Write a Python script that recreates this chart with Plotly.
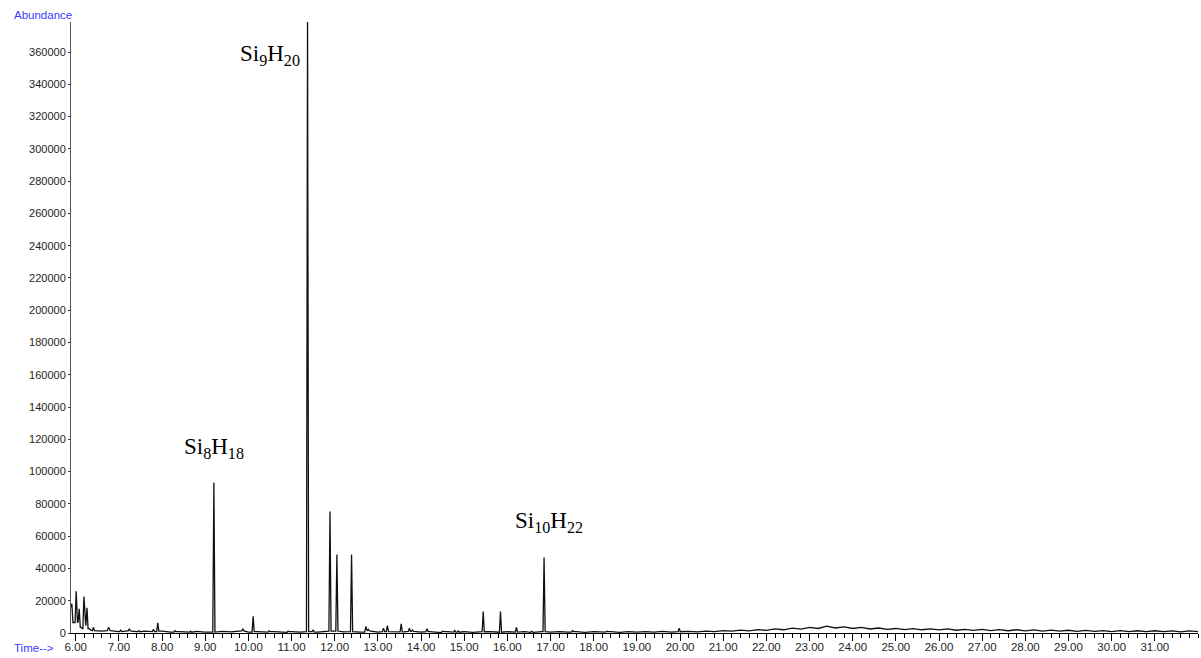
import numpy as np
import plotly.graph_objects as go

# Resolved peaks: retention time (min) and apex abundance
peak_rt = [5.91, 6.01, 6.08, 6.19, 6.26, 6.41, 6.76, 7.04, 7.24, 7.46,
           7.80, 7.90, 8.30, 8.66, 9.20, 9.87, 10.11, 10.48, 10.92, 11.37,
           11.50, 11.89, 12.05, 12.39, 12.72, 12.78, 13.13, 13.22, 13.54, 13.73,
           13.80, 14.14, 14.50, 14.78, 14.86, 15.44, 15.84, 16.21, 16.56, 16.85,
           17.51, 18.30, 19.98]
peak_abundance = [18100, 25900, 15000, 22600, 15600, 3600, 3600, 1800, 2600, 1500,
                  2300, 6300, 1400, 1100, 93200, 2600, 10400, 1300, 1200, 380000,
                  2000, 75300, 48700, 48700, 4000, 2200, 3000, 4500, 5700, 3000,
                  1800, 2600, 1200, 1600, 1300, 13300, 13300, 3400, 1100, 46800,
                  1500, 1100, 3000]

# Solvent tail at the start of the run
front_rt = [5.89, 5.96, 6.04, 6.12, 6.15, 6.23, 6.30, 6.35]
front_abundance = [16000, 6500, 6700, 3500, 2800, 5000, 2800, 1800]

# Baseline sampled every 0.2 min from 6.4 to 32.0 min
baseline_rt = np.round(np.arange(6.4, 32.01, 0.2), 1)
baseline_abundance = [
    1500, 1100, 1400, 900, 1300, 800, 1200, 900, 1100, 600,
    900, 500, 1000, 500, 600, 1000, 700, 1300, 600, 900,
    500, 900, 400, 800, 500, 800, 600, 1100, 1200, 700,
    800, 600, 1300, 600, 800, 1000, 700, 1000, 500, 900,
    400, 800, 500, 900, 400, 800, 900, 500, 800, 600,
    800, 400, 800, 500, 900, 500, 800, 400, 900, 500,
    800, 400, 900, 500, 900, 500, 1000, 600, 800, 1000,
    700, 1200, 900, 1500, 1100, 1800, 1300, 2100, 1600, 2500,
    2000, 3000, 2400, 3500, 2800, 4200, 3100, 3800, 2800, 3500,
    2500, 3100, 2200, 2800, 2100, 2700, 2000, 2600, 1900, 2500,
    1700, 2300, 1600, 2200, 1500, 2100, 1400, 2000, 1300, 1900,
    1200, 1800, 1100, 1700, 1000, 1600, 1000, 1500, 900, 1500,
    900, 1400, 800, 1400, 800, 1300, 700, 1300, 900,
]

x_tick_values = list(range(6, 32))
x_tick_labels = [f"{v:.2f}" for v in x_tick_values]

# Peak labels: text, retention time and height of the label centre
label_text = ["Si<sub>8</sub>H<sub>18</sub>", "Si<sub>9</sub>H<sub>20</sub>",
              "Si<sub>10</sub>H<sub>22</sub>"]
label_rt = [9.20, 10.50, 16.96]
label_abundance = [114500, 358000, 69000]

# Assemble the trace: baseline samples plus a narrow triangle per peak
HALF_WIDTH = 0.025
base_rt = list(front_rt) + [float(t) for t in baseline_rt]
base_ab = list(front_abundance) + list(baseline_abundance)


def nearest_base(t):
    i = int(np.argmin([abs(t - b) for b in base_rt]))
    return base_ab[i]


points = [(t, a) for t, a in zip(base_rt, base_ab)
          if min(abs(t - p) for p in peak_rt) >= HALF_WIDTH]
for p, h in zip(peak_rt, peak_abundance):
    points.append((p - HALF_WIDTH, nearest_base(p - HALF_WIDTH)))
    points.append((p, h))
    points.append((p + HALF_WIDTH, nearest_base(p + HALF_WIDTH)))
points.sort()
trace_rt = [p[0] for p in points]
trace_ab = [p[1] for p in points]

X_RANGE = [5.89, 32.0]
Y_RANGE = [0, 378600]

fig = go.Figure()
fig.add_trace(go.Scatter(
    x=trace_rt, y=trace_ab, mode="lines",
    line=dict(color="#111111", width=1.3),
    hoverinfo="skip", showlegend=False,
))
# Empty trace that carries the tick-only time axis
fig.add_trace(go.Scatter(x=[], y=[], xaxis="x2", yaxis="y",
                         showlegend=False, hoverinfo="skip"))

for txt, x, y in zip(label_text, label_rt, label_abundance):
    fig.add_annotation(
        x=x, y=y, xref="x", yref="y", text=txt, showarrow=False,
        font=dict(family="Liberation Serif, Times New Roman, serif",
                  size=23, color="#000000"),
        xanchor="center", yanchor="middle",
    )

PLOT_W = 1127
PLOT_H = 611
fig.add_annotation(
    x=(11.5 - 71) / PLOT_W, y=(633 - 15) / PLOT_H, xref="paper", yref="paper",
    text="Abundance", showarrow=False, xanchor="left", yanchor="middle",
    font=dict(family="Arial, Liberation Sans, sans-serif", size=11.5, color="#3a3aff"),
)
fig.add_annotation(
    x=(11.5 - 71) / PLOT_W, y=(633 - 647.5) / PLOT_H, xref="paper", yref="paper",
    text="Time-->", showarrow=False, xanchor="left", yanchor="middle",
    font=dict(family="Arial, Liberation Sans, sans-serif", size=11.5, color="#3a3aff"),
)

tick_font = dict(family="Arial, Liberation Sans, sans-serif", size=11.5, color="#1e1e1e")

fig.update_layout(
    width=1201, height=658,
    margin=dict(l=71, r=3, t=22, b=25, pad=0),
    paper_bgcolor="white", plot_bgcolor="white",
    xaxis=dict(
        range=X_RANGE, automargin=False,
        tickmode="array", tickvals=x_tick_values, ticktext=x_tick_labels,
        ticks="outside", ticklen=3, tickwidth=1, tickcolor="#000000",
        showline=True, linecolor="#000000", linewidth=1,
        showgrid=False, zeroline=False, tickfont=tick_font,
    ),
    xaxis2=dict(
        range=X_RANGE, overlaying="x", anchor="y", side="bottom",
        automargin=False, showticklabels=False,
        tickmode="array", tickvals=x_tick_values,
        ticks="outside", ticklen=7, tickwidth=1, tickcolor="#000000",
        minor=dict(dtick=0.2, tick0=0, ticks="outside", ticklen=4,
                   tickwidth=1, tickcolor="#000000", showgrid=False),
        showline=False, showgrid=False, zeroline=False,
    ),
    yaxis=dict(
        range=Y_RANGE, dtick=20000, tick0=0, automargin=False,
        ticks="outside", ticklen=2, tickwidth=1, tickcolor="#333333",
        showline=True, linecolor="#555555", linewidth=1,
        showgrid=False, zeroline=False,
        tickformat="d",
        tickfont=dict(family="Arial, Liberation Sans, sans-serif", size=11,
                      color="#1e1e1e"),
    ),
)

fig.write_html("out.html")
